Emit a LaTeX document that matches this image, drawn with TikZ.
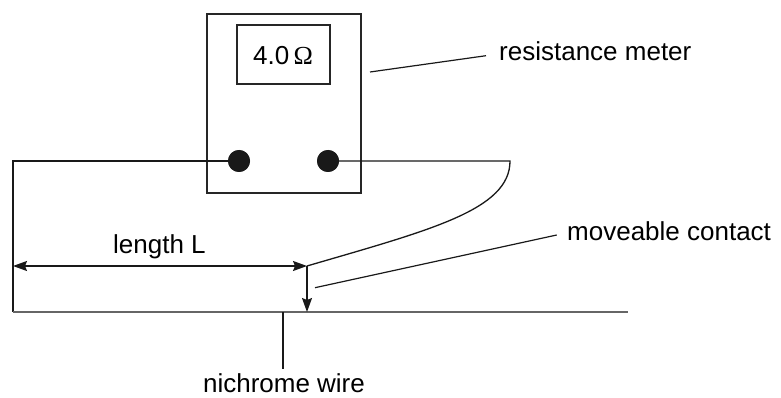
\documentclass[tikz,border=0pt]{standalone}
\usepackage{fontspec}
\setmainfont{Liberation Sans}
\newfontfamily\omfont{Liberation Serif}
\usetikzlibrary{arrows.meta}
\tikzset{
  wire/.style={line width=1.3pt, black!90},
  leader/.style={line width=1.2pt, black!90},
  rod/.style={line width=2pt, black!60},
  box/.style={draw=black!85, line width=1.3pt, inner sep=0pt, minimum width=#1},
  terminal/.style={circle, fill=black!90, minimum size=22pt, inner sep=0pt},
  lbl/.style={inner sep=0pt, anchor=base, font=\fontsize{26}{30}\selectfont},
  tip/.style={-{Stealth[length=14pt,width=10pt,inset=2pt]}},
  dtip/.style={{Stealth[length=14pt,width=10pt,inset=2pt]}-{Stealth[length=14pt,width=10pt,inset=2pt]}}
}
\begin{document}
\begin{tikzpicture}[x=1pt,y=-1pt]
\useasboundingbox (0,0) rectangle (781,398);
% meter
\node[box=154pt, minimum height=179pt] (meter) at (284,103.5) {};
\node[box=93pt, minimum height=59pt] (display) at (283.5,54.5) {};
\node[lbl] (reading) at (283,65) {4.0\,{\omfont Ω}};
\node[terminal] (tl) at (239,161) {};
\node[terminal] (tr) at (328,161) {};
% circuit points
\coordinate (lc) at (13,161);
\coordinate (lb) at (13,312);
\coordinate (rc) at (510,161);
\coordinate (contact) at (307,266);
\coordinate (onrod) at (307,312);
\coordinate (rodend) at (628,312);
\coordinate (lenL) at (13,266);
% wires
\draw[wire] (tl.center) -- (lc) -- (lb);
\draw[rod] (lb) -- (rodend);
\draw[wire] (tr.center) -- (rc) .. controls (510,210) and (430,230) .. (contact);
\draw[wire, tip] (contact) -- (onrod);
\draw[wire, dtip] (lenL) -- (contact);
\node[terminal] at (tl) {};
\node[terminal] at (tr) {};
% labels
\node[lbl] (len) at (159.4,253) {length L};
\node[lbl, anchor=base west] (rmlbl) at (499,60.7) {resistance meter};
\node[lbl, anchor=base west] (mclbl) at (567,240) {moveable contact};
\node[lbl] (nwlbl) at (284,392) {nichrome wire};
% leaders
\coordinate (rm1) at (370,72);
\coordinate (rm2) at (486,55.7);
\draw[leader] (rm1) -- (rm2);
\coordinate (mc1) at (315,287.7);
\coordinate (mc2) at (556.7,235);
\draw[leader] (mc1) -- (mc2);
\coordinate (nw1) at (283,312);
\coordinate (nw2) at (283,369);
\draw[leader] (nw1) -- (nw2);
\end{tikzpicture}
\end{document}
